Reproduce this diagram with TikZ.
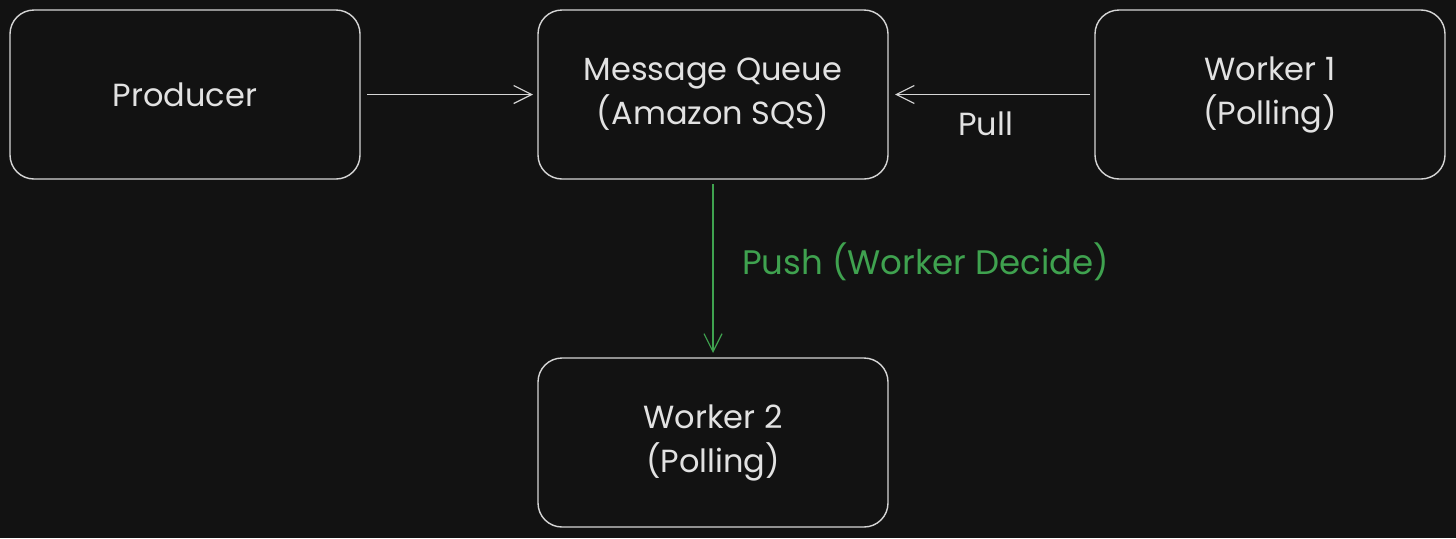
\documentclass[tikz,border=0pt]{standalone}
\usepackage{fontspec}
\setmainfont{Poppins}
\usepackage{xcolor}
\usetikzlibrary{arrows.meta, positioning}
\definecolor{fond}{HTML}{121212}
\definecolor{trait}{HTML}{D6D6D6}
\definecolor{texte}{HTML}{E2E2E2}
\definecolor{vert}{HTML}{3FA24F}
\tikzset{
  boite/.style={rectangle, rounded corners=12pt, draw=trait, line width=0.7pt,
    text=texte, font=\fontsize{16}{22}\selectfont, minimum width=175pt,
    minimum height=84.5pt, align=center, outer sep=0pt},
  fleche/.style={-{Straight Barb[length=9pt, width=9pt]}, line width=0.6pt, color=trait},
  flechevert/.style={fleche, color=vert},
  etiquette/.style={font=\fontsize{16}{22}\selectfont, color=texte},
}

\begin{document}
\begin{tikzpicture}
    \fill[fond] (0,0) rectangle (728pt,269pt);
    \useasboundingbox (0,0) rectangle (728pt,269pt);

    \node[boite] (producer) at (92.5pt,221.75pt) {Producer};
    \node[boite, right=89pt of producer] (queue) {Message Queue\\ (Amazon SQS)};
    \node[boite, right=103.5pt of queue] (worker1) {Worker 1\\ (Polling)};
    \node[boite, below=89.5pt of queue] (worker2) {Worker 2\\ (Polling)};

    \draw[fleche, shorten <=3.5pt, shorten >=2.5pt] (producer) -- (queue);
    \draw[fleche, shorten <=2.5pt, shorten >=3.5pt] (worker1) -- (queue)
      node[etiquette, midway, below=5pt, xshift=-3pt] (pull) {Pull};
    \draw[flechevert, shorten <=2.5pt, shorten >=2.5pt] (queue) -- (worker2)
      node[etiquette, color=vert, pos=0.46, right=11pt, font=\fontsize{17}{22}\selectfont] (push) {Push (Worker Decide)};
  \end{tikzpicture}
\end{document}
